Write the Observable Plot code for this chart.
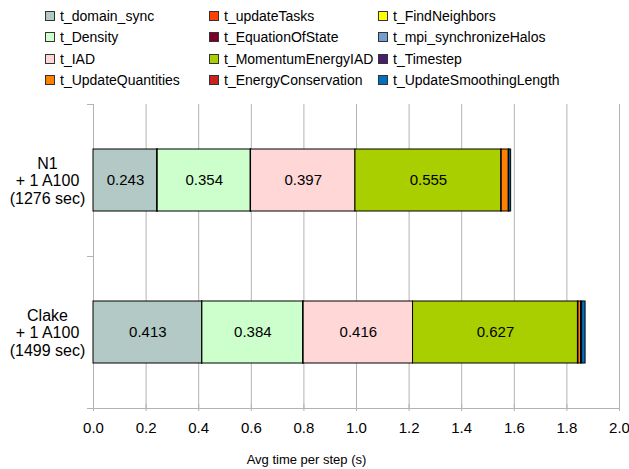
<!DOCTYPE html>
<html><head><meta charset="utf-8">
<script src="https://cdn.jsdelivr.net/npm/d3@7"></script>
<script src="https://cdn.jsdelivr.net/npm/@observablehq/plot@0.6"></script>
<style>
body{margin:0;background:#fff;font-family:"Liberation Sans",Arial,sans-serif;}
#legend{position:relative;height:95px;width:629px;}
.item{position:absolute;display:flex;align-items:center;font-size:14px;color:#000;white-space:nowrap;height:20px;}
.sw{width:8px;height:8px;border:1px solid #333;margin-right:5px;flex:none;}
</style></head><body>
<div id="legend"></div><div id="chart"></div>
<script>
const systems = ["N1\n+ 1 A100\n(1276 sec)", "Clake\n+ 1 A100\n(1499 sec)"];
const series = ["t_domain_sync", "t_updateTasks", "t_FindNeighbors",
  "t_Density", "t_EquationOfState", "t_mpi_synchronizeHalos",
  "t_IAD", "t_MomentumEnergyIAD", "t_Timestep",
  "t_UpdateQuantities", "t_EnergyConservation", "t_UpdateSmoothingLength"];
const colors = ["#b3c9c5", "#ff4000", "#ffff00",
  "#ccffcc", "#7b0028", "#729fcf",
  "#ffd7d7", "#aacf00", "#481f6f",
  "#ff8000", "#c9211e", "#0070c0"];
const n1Values = [0.243, 0.0005, 0.0005, 0.354, 0.0005, 0.0005, 0.397, 0.555, 0.001, 0.027, 0.002, 0.007];
const clakeValues = [0.413, 0.0005, 0.0005, 0.384, 0.0005, 0.0005, 0.416, 0.627, 0.002, 0.010, 0.004, 0.013];
const xTicks = [0, 0.2, 0.4, 0.6, 0.8, 1.0, 1.2, 1.4, 1.6, 1.8, 2.0];
const xLabel = "Avg time per step (s)";

// legend
const legendCols = [45, 209, 378];
const legendRows = [6, 27, 49, 70];
const leg = document.getElementById("legend");
series.forEach((s, i) => {
  const it = document.createElement("div");
  it.className = "item";
  it.style.left = legendCols[i % 3] + "px";
  it.style.top = legendRows[Math.floor(i / 3)] + "px";
  const sw = document.createElement("span");
  sw.className = "sw";
  sw.style.background = colors[i];
  it.appendChild(sw);
  it.appendChild(document.createTextNode(s));
  leg.appendChild(it);
});

const valuesBySystem = [n1Values, clakeValues];
const data = [];
systems.forEach((sys, si) => series.forEach((k, ki) => data.push({system: sys, series: k, value: valuesBySystem[si][ki]})));

const chart = Plot.plot({
  width: 629, height: 374,
  marginTop: 9, marginBottom: 61, marginLeft: 93, marginRight: 10,
  style: {fontFamily: "Liberation Sans, Arial, sans-serif", fontSize: "15px", background: "#fff", color: "#000"},
  x: {domain: [0, 2]},
  y: {domain: systems, paddingInner: 0.59, paddingOuter: 0.295},
  color: {domain: series, range: colors},
  marks: [
    Plot.gridX(xTicks, {stroke: "#b3b3b3", strokeOpacity: 1}),
    Plot.ruleY([systems[1]], {dy: 76, stroke: "#b3b3b3"}),
    Plot.axisY({ticks: systems, tickSize: 6, tickFormat: () => "", dy: -76, stroke: "#b3b3b3", label: null}),
    Plot.axisY({ticks: [systems[1]], tickSize: 6, tickFormat: () => "", dy: 76, stroke: "#b3b3b3", label: null}),
    Plot.axisX({ticks: xTicks, tickSize: 7, tickFormat: () => "", dy: -4, stroke: "#b3b3b3", label: null}),
    Plot.axisX({ticks: xTicks, tickSize: 0, tickPadding: 14, tickFormat: d3.format(".1f"), label: null, fontSize: 15}),
    Plot.barX(data, Plot.stackX({y: "system", x: "value", fill: "series", order: series, stroke: "#000", strokeWidth: 1})),
    Plot.text(data, Plot.stackX({y: "system", x: "value", z: "series", order: series,
      text: d => d.value > 0.1 ? d.value.toFixed(3) : "", fill: "#000", fontSize: 15})),
    Plot.text(systems, {y: d => d, frameAnchor: "left", dx: -46, textAnchor: "middle", lineHeight: 1.1, fontSize: 16}),
    Plot.text([xLabel], {frameAnchor: "bottom", lineAnchor: "middle", dy: 51, dx: -50, fontSize: 13})
  ]
});
document.getElementById("chart").appendChild(chart);
</script>
</body></html>
